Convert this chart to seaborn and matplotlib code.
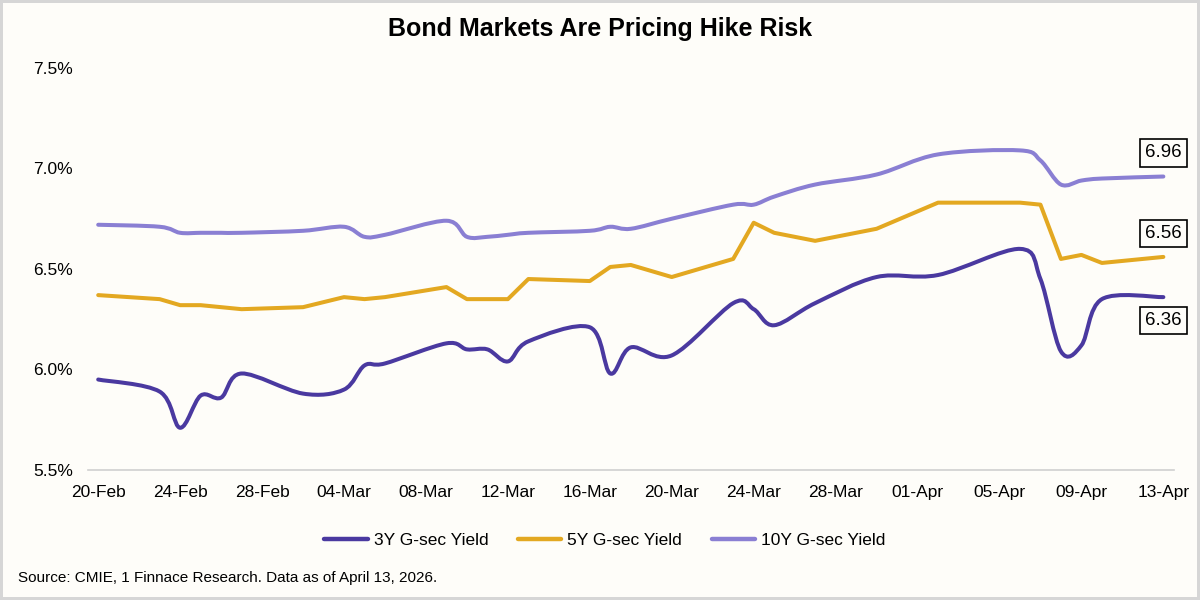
import numpy as np
import pandas as pd
import matplotlib
matplotlib.use('Agg')
import matplotlib.pyplot as plt
import seaborn as sns
from matplotlib.path import Path
from matplotlib.patches import PathPatch
from matplotlib.lines import Line2D

# -----------------------------
# Data
# -----------------------------
dates = ['2026-02-20', '2026-02-23', '2026-02-24', '2026-02-25', '2026-02-26', '2026-02-27',
         '2026-03-02', '2026-03-04', '2026-03-05', '2026-03-06', '2026-03-09', '2026-03-10',
         '2026-03-11', '2026-03-12', '2026-03-13', '2026-03-16', '2026-03-17', '2026-03-18',
         '2026-03-20', '2026-03-23', '2026-03-24', '2026-03-25', '2026-03-27', '2026-03-30',
         '2026-04-02', '2026-04-06', '2026-04-07', '2026-04-08', '2026-04-09', '2026-04-10',
         '2026-04-13']

yield_3y = [5.95, 5.89, 5.71, 5.87, 5.86, 5.98,
            5.88, 5.90, 6.02, 6.03, 6.13, 6.10,
            6.10, 6.04, 6.14, 6.21, 5.98, 6.11,
            6.07, 6.33, 6.30, 6.22, 6.33, 6.46,
            6.47, 6.60, 6.45, 6.09, 6.12, 6.35,
            6.36]

yield_5y = [6.37, 6.35, 6.32, 6.32, 6.31, 6.30,
            6.31, 6.36, 6.35, 6.36, 6.41, 6.35,
            6.35, 6.35, 6.45, 6.44, 6.51, 6.52,
            6.46, 6.55, 6.73, 6.68, 6.64, 6.70,
            6.83, 6.83, 6.82, 6.55, 6.57, 6.53,
            6.56]

yield_10y = [6.72, 6.71, 6.68, 6.68, 6.68, 6.68,
             6.69, 6.71, 6.66, 6.67, 6.74, 6.66,
             6.66, 6.67, 6.68, 6.69, 6.71, 6.70,
             6.75, 6.82, 6.82, 6.86, 6.92, 6.97,
             7.07, 7.09, 7.04, 6.92, 6.94, 6.95,
             6.96]

series_names = ['3Y G-sec Yield', '5Y G-sec Yield', '10Y G-sec Yield']
colors = {'3Y G-sec Yield': '#4A39A0', '5Y G-sec Yield': '#E3A821', '10Y G-sec Yield': '#8A7FD3'}

date_idx = pd.to_datetime(dates)
start = date_idx[0]
day = np.array((date_idx - start).days, dtype=float)

df = pd.DataFrame({'day': day, '3Y G-sec Yield': yield_3y,
                   '5Y G-sec Yield': yield_5y, '10Y G-sec Yield': yield_10y})

tick_dates = pd.date_range('2026-02-20', '2026-04-13', freq='4D')
tick_pos = np.array((tick_dates - start).days, dtype=float)
tick_labels = tick_dates.strftime('%d-%b')


def smooth_path(x, y):
    # Excel style smoothed line: cubic bezier through every point
    pts = np.column_stack([x, y])
    n = len(pts)
    verts = [pts[0]]
    codes = [Path.MOVETO]
    for i in range(n - 1):
        p0 = pts[i - 1] if i > 0 else pts[i]
        p1 = pts[i]
        p2 = pts[i + 1]
        p3 = pts[i + 2] if i + 2 < n else pts[i + 1]
        verts += [p1 + (p2 - p0) / 6, p2 - (p3 - p1) / 6, p2]
        codes += [Path.CURVE4] * 3
    return Path(verts, codes)


# -----------------------------
# Figure
# -----------------------------
sns.set_theme(style='white')
plt.rcParams['font.family'] = ['Liberation Sans', 'DejaVu Sans']
plt.rcParams['text.color'] = 'black'
bg = '#FEFDF9'

fig = plt.figure(figsize=(12, 6), dpi=100, facecolor=bg)
fig.patch.set_edgecolor('#D6D6D6')
fig.patch.set_linewidth(3)
ax = fig.add_axes([0.0733, 0.2167, 0.9047, 0.67])
ax.set_facecolor(bg)

lw = 2.9
# 5Y is a straight line chart
sns.lineplot(data=df, x='day', y='5Y G-sec Yield', ax=ax, color=colors['5Y G-sec Yield'],
             linewidth=lw, legend=False)
# 3Y and 10Y are smoothed
for name in ['3Y G-sec Yield', '10Y G-sec Yield']:
    patch = PathPatch(smooth_path(df['day'].values, df[name].values), fill=False,
                      edgecolor=colors[name], linewidth=lw, capstyle='round', joinstyle='round')
    ax.add_patch(patch)

ax.set_xlim(-0.5, 52.5)
ax.set_ylim(5.5, 7.5)

ax.set_yticks([5.5, 6.0, 6.5, 7.0, 7.5])
ax.set_yticklabels([f'{v:.1f}%' for v in [5.5, 6.0, 6.5, 7.0, 7.5]])
ax.set_xticks(tick_pos)
ax.set_xticklabels(tick_labels)
ax.set_xticks(np.arange(-0.5, 52, 4), minor=True)
ax.tick_params(axis='x', which='major', length=0, pad=11, labelsize=12.5, colors='black')
ax.tick_params(axis='x', which='minor', length=5, width=1, color='#D0D0D0', direction='out')
ax.tick_params(axis='y', length=0, pad=11, labelsize=12.5, colors='black')
ax.set_xlabel('')
ax.set_ylabel('')
ax.grid(False)
for s in ['left', 'right', 'top']:
    ax.spines[s].set_visible(False)
ax.spines['bottom'].set_color('#D0D0D0')
ax.spines['bottom'].set_linewidth(1.2)

# end labels
label_offsets = {'3Y G-sec Yield': -17, '5Y G-sec Yield': 17, '10Y G-sec Yield': 17}
for name in series_names:
    last = df[name].iloc[-1]
    ax.annotate(f'{last:.2f}', xy=(df['day'].iloc[-1], last), xytext=(0, label_offsets[name]),
                textcoords='offset points', ha='center', va='center', fontsize=13.5,
                bbox=dict(boxstyle='square,pad=0.28', facecolor=bg, edgecolor='black', linewidth=1.2))

fig.text(0.5, 0.952, 'Bond Markets Are Pricing Hike Risk', ha='center', va='center',
         fontsize=18, fontweight='bold', color='black')

handles = [Line2D([0], [0], color=colors[n], linewidth=3.2) for n in series_names]
fig.legend(handles, series_names, loc='center', bbox_to_anchor=(0.504, 0.1), ncol=3,
           frameon=False, fontsize=12.5, handlelength=2.5, handletextpad=0.35, columnspacing=1.7)

fig.text(0.015, 0.037, 'Source: CMIE, 1 Finnace Research. Data as of April 13, 2026.',
         ha='left', va='center', fontsize=11, color='black')

plt.savefig('out.png', dpi=100, facecolor=bg, edgecolor=fig.patch.get_edgecolor())
